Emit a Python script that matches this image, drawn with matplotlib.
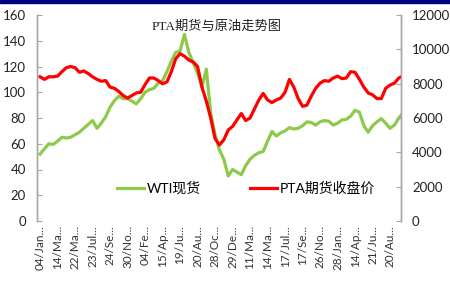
"""PTA futures vs WTI crude: dual-axis line chart (Excel style)."""

import matplotlib

matplotlib.use("Agg")
import matplotlib.pyplot as plt
import numpy as np
from matplotlib.patches import Rectangle

plt.rcParams["font.family"] = ["Lato", "Noto Sans CJK SC", "DejaVu Sans"]

# Category tick labels (Excel truncates the dates), one every 4 samples
tick_labels = [
    "04/Jan...", "14/Ma...", "22/Ma...", "23/Jul...", "24/Se...", "30/No...",
    "04/Fe...", "15/Ap...", "19/Ju...", "20/Au...", "28/Oc...", "29/De...",
    "11/Ma...", "14/Ma...", "17/Jul...", "17/Se...", "26/No...", "28/Jan...",
    "14/Ap...", "21/Ju...", "20/Au...",
]

# WTI spot, USD/bbl (left axis)
wti = [
    52, 56, 60, 59.5, 62, 65, 64.5, 65, 67, 69,
    72, 75, 78, 72, 76, 81, 88.5, 93.5, 97, 95,
    95, 93, 91, 95, 100, 102, 103, 107, 109, 116,
    124, 131, 132, 145, 131, 123, 115, 104, 118, 84,
    67, 55, 48, 35, 40, 38, 36, 43, 48, 51,
    53, 54, 62, 69.5, 66, 68.5, 70, 72.5, 71.5, 72,
    74, 77, 76.5, 74.5, 77, 78, 77.5, 74.5, 76, 78.5,
    79, 81.5, 86, 84.5, 74, 69, 74, 77, 79.5, 76,
    72, 74.5, 80, 84,
]

# PTA futures close, CNY/t (right axis)
pta = [
    8400, 8250, 8400, 8400, 8440, 8700, 8930, 9000, 8930, 8660,
    8740, 8590, 8400, 8250, 8140, 8180, 7800, 7730, 7540, 7310,
    7160, 7310, 7460, 7500, 7950, 8330, 8330, 8180, 7990, 8100,
    8700, 9450, 9750, 9600, 9380, 9260, 9000, 7800, 6980, 6000,
    4800, 4430, 4730, 5300, 5510, 5890, 6260, 5850, 6000, 6530,
    7050, 7430, 7050, 6900, 7050, 7160, 7500, 8250, 7800, 7130,
    6680, 6750, 7280, 7730, 8030, 8180, 8140, 8330, 8440, 8290,
    8330, 8700, 8660, 8250, 7800, 7460, 7350, 7130, 7130, 7730,
    7920, 8030, 8330, 8450,
]

GREEN = "#8DC94A"
RED = "#FF0000"
SPINE = "#A6A6A6"

fig = plt.figure(figsize=(4.5, 3.0), dpi=100)
ax = fig.add_axes([37 / 450, 1 - 221 / 300, 364 / 450, 206 / 300])
ax2 = ax.twinx()

x = np.arange(len(wti))
l1, = ax.plot(x, wti, color=GREEN, lw=2.3, label="WTI现货")
l2, = ax2.plot(x, pta, color=RED, lw=2.3, label="PTA期货收盘价")

ax.set_xlim(-0.7, 82.5)
ax.set_ylim(0, 160)
ax.set_yticks(range(0, 161, 20))
ax2.set_ylim(0, 12000)
ax2.set_yticks(range(0, 12001, 2000))

ax.set_xticks(x[::4][: len(tick_labels)])
ax.set_xticklabels(tick_labels, rotation=90, fontsize=8.5, color="#333333")
ax.tick_params(axis="x", length=0, pad=3)
ax.tick_params(axis="y", direction="in", length=3.5, color=SPINE,
               labelsize=9.5, pad=8, labelcolor="#222222")
ax2.tick_params(axis="y", direction="in", length=3.5, color=SPINE,
                labelsize=9.5, pad=8, labelcolor="#222222")

for a in (ax, ax2):
    a.spines["top"].set_visible(False)
    a.spines["bottom"].set_visible(False)
    a.spines["left"].set_color(SPINE)
    a.spines["right"].set_color(SPINE)
    a.spines["left"].set_linewidth(1.0)
    a.spines["right"].set_linewidth(1.0)

fig.text(217 / 450, 1 - 27 / 300, "PTA期货与原油走势图", ha="center", va="center",
         fontsize=9.5, color="#222222",
         family=["Liberation Serif", "Noto Sans CJK SC"])

ax.legend([l1, l2], [l1.get_label(), l2.get_label()], ncol=2, frameon=False,
          loc="center", bbox_to_anchor=(246 / 450, 1 - 188 / 300),
          bbox_transform=fig.transFigure, fontsize=10, handlelength=1.9,
          handletextpad=0.2, columnspacing=3.6)

# thin navy band along the top edge
fig.patches.append(Rectangle((0, 1 - 2.5 / 300), 1, 2.5 / 300,
                             transform=fig.transFigure, color="#000080", zorder=10))

fig.savefig("out.png", dpi=100)
